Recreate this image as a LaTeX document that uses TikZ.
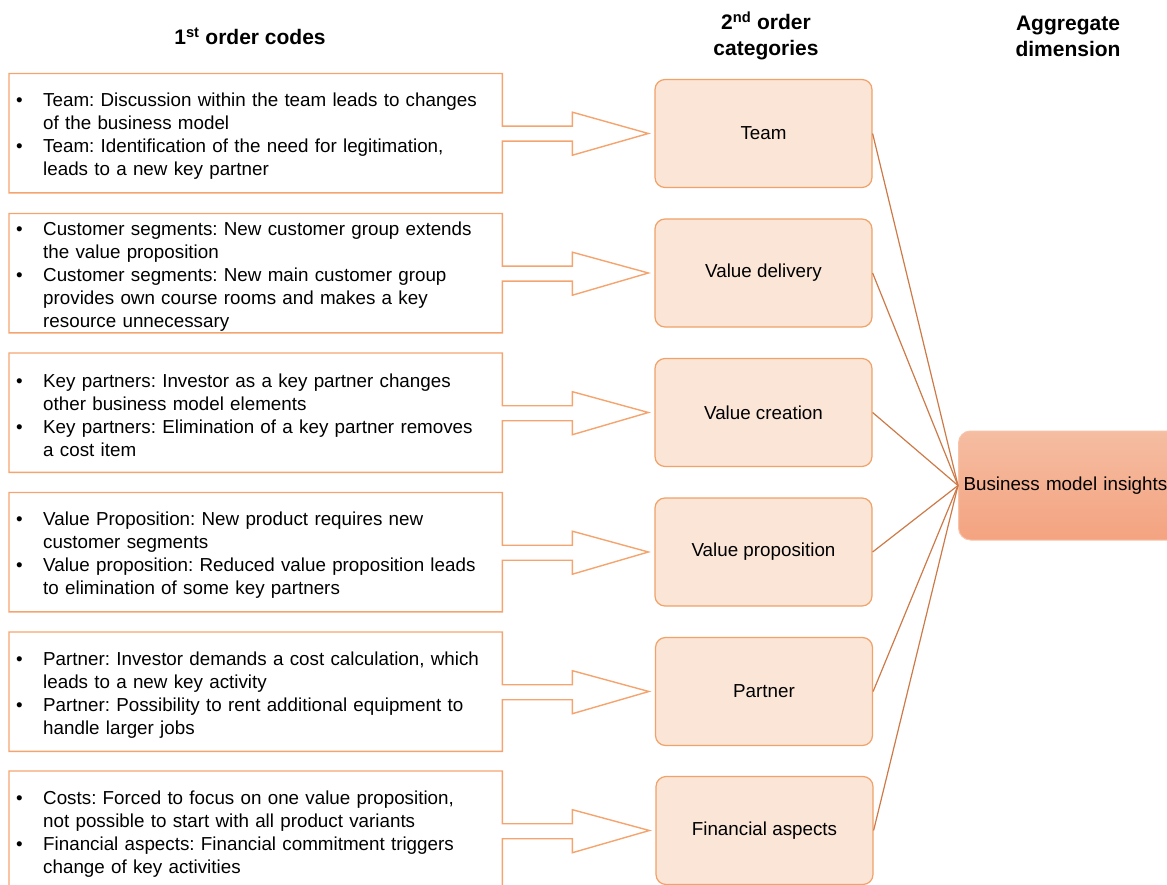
\documentclass[tikz,border=0pt]{standalone}
\usepackage{fontspec}
\setmainfont{Liberation Sans}
\usetikzlibrary{calc}
\frenchspacing

\definecolor{codeline}{RGB}{244,164,110}
\definecolor{catfill}{RGB}{251,229,214}
\definecolor{catline}{RGB}{240,162,104}
\definecolor{linkline}{RGB}{205,122,72}
\definecolor{aggtop}{RGB}{245,189,162}
\definecolor{aggbottom}{RGB}{244,163,128}
\definecolor{aggline}{RGB}{247,196,170}

\newcommand\bodyfont{\fontsize{18.8}{23}\selectfont}
\newcommand\headfont{\fontsize{21}{26}\selectfont\bfseries}
\newcommand\codebullet{\makebox[27pt][l]{\textbullet}}
\newcommand\codeindent{\hspace*{27pt}}

\tikzset{
  headtext/.style={align=center, font=\headfont, inner sep=0pt},
  codeframe/.style={anchor=north west, minimum width=493pt, minimum height=119pt, inner sep=0pt},
  codetext/.style={anchor=west, text width=479pt, inner sep=0pt, align=left, font=\bodyfont},
  codeoutline/.style={draw=codeline, line width=1.4pt, line join=miter},
  catbox/.style={draw=catline, fill=catfill, rounded corners=10pt, line width=1.2pt,
    minimum width=217pt, minimum height=108pt, font=\bodyfont},
  aggbox/.style={draw=aggline, top color=aggtop, bottom color=aggbottom,
    rounded corners=12pt, line width=1pt, minimum width=225pt, minimum height=109pt,
    text width=215pt, inner xsep=5pt, align=left, font=\bodyfont},
  link/.style={draw=linkline, line width=1.2pt}
}

\begin{document}
\begin{tikzpicture}[x=1pt, y=-1pt]
\useasboundingbox (0,0) rectangle (1167,885);

% column headings
\node[headtext] (h1) at (250,36.5) {1\textsuperscript{st} order codes};
\node[headtext] (h2) at (766,36) {2\textsuperscript{nd} order\\categories};
\node[headtext] (h3) at (1068,36) {Aggregate\\dimension};

% second order categories
\node[catbox] (t1) at (763.5,133.5) {Team};
\node[catbox] (t2) at (763.5,273) {Value delivery};
\node[catbox] (t3) at (763.5,412.5) {Value creation};
\node[catbox] (t4) at (763.5,552) {Value proposition};
\node[catbox] (t5) at (764,691.5) {Partner};
\node[catbox] (t6) at (764.5,830.5) {Financial aspects};

% aggregate dimension
\node[aggbox, anchor=west] (agg) at (958,485.5) {Business model insights};

% first order code frames
\node[codeframe] (c1) at (9,73.5) {};
\node[codeframe] (c2) at (9,213.5) {};
\node[codeframe] (c3) at (9,353) {};
\node[codeframe] (c4) at (9,492.5) {};
\node[codeframe] (c5) at (9,632) {};
\node[codeframe] (c6) at (9,771) {};

% first order code texts
\node[codetext] (x1) at ($(c1.west)+(7,3)$) {%
  \codebullet Team: Discussion within the team leads to changes\\
  \codeindent of the business model\\
  \codebullet Team: Identification of the need for legitimation,\\
  \codeindent leads to a new key partner};
\node[codetext] (x2) at ($(c2.west)+(7,3)$) {%
  \codebullet Customer segments: New customer group extends\\
  \codeindent the value proposition\\
  \codebullet Customer segments: New main customer group\\
  \codeindent provides own course rooms and makes a key\\
  \codeindent resource unnecessary};
\node[codetext] (x3) at ($(c3.west)+(7,3)$) {%
  \codebullet Key partners: Investor as a key partner changes\\
  \codeindent other business model elements\\
  \codebullet Key partners: Elimination of a key partner removes\\
  \codeindent a cost item};
\node[codetext] (x4) at ($(c4.west)+(7,3)$) {%
  \codebullet Value Proposition: New product requires new\\
  \codeindent customer segments\\
  \codebullet Value proposition: Reduced value proposition leads\\
  \codeindent to elimination of some key partners};
\node[codetext] (x5) at ($(c5.west)+(7,3)$) {%
  \codebullet Partner: Investor demands a cost calculation, which\\
  \codeindent leads to a new key activity\\
  \codebullet Partner: Possibility to rent additional equipment to\\
  \codeindent handle larger jobs};
\node[codetext] (x6) at ($(c6.west)+(7,3)$) {%
  \codebullet Costs: Forced to focus on one value proposition,\\
  \codeindent not possible to start with all product variants\\
  \codebullet Financial aspects: Financial commitment triggers\\
  \codeindent change of key activities};

% frame outlines with their block arrows, and the links to the aggregate
\foreach \i in {1,...,6} {
  \draw[codeoutline] (c\i.north west) -- (c\i.north east)
    -- ($(c\i.east)+(0,-7)$) -- ($(c\i.east)+(70,-7)$) -- ($(c\i.east)+(70,-21)$)
    -- ($(t\i.west)+(-6,0)$)
    -- ($(c\i.east)+(70,22)$) -- ($(c\i.east)+(70,8)$) -- ($(c\i.east)+(0,8)$)
    -- (c\i.south east) -- (c\i.south west) -- cycle;
  \draw[link] (t\i.east) -- (agg.west);
}
\end{tikzpicture}
\end{document}
